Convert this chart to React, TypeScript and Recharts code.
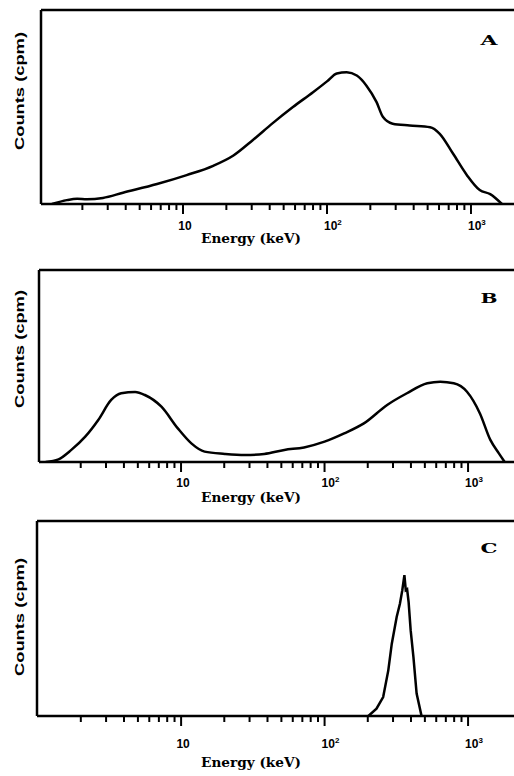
import React from "react";
import { LineChart, Line, XAxis, YAxis, ReferenceLine } from "recharts";

// energy (keV) / relative counts
const energyA = [1.23, 1.56, 1.84, 2.15, 2.78, 3.83, 6.6, 10.6, 16.2, 22.4, 30.6, 42, 58, 80, 100, 117, 137, 161, 188, 221, 245, 286, 375, 520, 607, 750, 935, 1150, 1360, 1640];
const countsA = [0, 2, 2.7, 2.4, 3.1, 5.8, 10.3, 14.9, 19.7, 25, 33, 41.7, 50, 57.6, 63.2, 67.3, 67.9, 66.2, 61, 52.5, 44.8, 41.4, 40.5, 39.6, 36.2, 26, 15, 7.2, 5.1, 0];

const energyB = [1.14, 1.4, 1.72, 2.15, 2.65, 3.26, 3.83, 4.79, 5.6, 7.3, 9.5, 11.8, 14.6, 20.2, 27.8, 38, 52.5, 72, 100, 137, 188, 273, 375, 520, 640, 795, 983, 1210, 1430, 1640, 1800];
const countsB = [0, 1.4, 6.3, 13.2, 21.9, 32.3, 35.8, 36.5, 34.9, 28.8, 17.5, 9.7, 5.4, 4.2, 3.6, 4.2, 6.3, 7.6, 10.6, 14.9, 20.1, 29.7, 35.8, 41, 41.8, 41, 36.6, 25.3, 11.5, 4.5, 0];

const energyC = [202, 230, 256, 278, 294, 318, 335, 348, 360, 368, 376, 385, 398, 416, 438, 474];
const countsC = [0, 3.8, 9.7, 23.4, 37.1, 50.8, 57.6, 64.5, 72.2, 64.5, 65, 58.6, 44, 30.3, 11.5, 0];

const minorTicks = [2, 3, 4, 5, 6, 7, 8, 9, 20, 30, 40, 50, 60, 70, 80, 90, 200, 300, 400, 500, 600, 700, 800, 900];
const majorTicks = [10, 100, 1000];
const powerOf: Record<number, string> = { 10: "", 100: "2", 1000: "3" };

const toRows = (xs: number[], ys: number[]) => xs.map((e, i) => ({ e, c: ys[i] }));

const tickFont = "Liberation Sans, Arial, sans-serif";

function MajorLabel(props: any) {
  const { x, y, payload, labelDy } = props;
  const sup = powerOf[payload.value];
  if (sup === "") {
    return (
      <text x={x + 2} y={y + labelDy} textAnchor="middle" fontFamily={tickFont} fontWeight="bold" fontSize={12} fill="#000">
        10
      </text>
    );
  }
  return (
    <text x={x - 3} y={y + labelDy} textAnchor="start" fontFamily={tickFont} fontWeight="bold" fontSize={12} fill="#000">
      10<tspan dy={-5} fontSize={8}>{sup}</tspan>
    </text>
  );
}

const NoLabel = () => <g />;

interface PanelProps {
  rows: { e: number; c: number }[];
  letter: string;
  top: number;
  height: number;
  plotTop: number;
  plotLeft: number;
  axisH: number;
  domain: [number, number];
  tickDy: number;
  titleY: number;
  yLabelY: number;
  letterY: number;
  curve: "monotone" | "linear";
}

function Panel(p: PanelProps) {
  const texts = () => (
    <g>
      <text x={489} y={p.letterY} textAnchor="middle" textLength={17} lengthAdjust="spacingAndGlyphs" fontFamily="DejaVu Serif, Liberation Serif, serif" fontWeight="bold" fontSize={13} fill="#000">
        {p.letter}
      </text>
      <text
        x={0}
        y={0}
        transform={`translate(24 ${p.yLabelY}) rotate(-90)`}
        textAnchor="middle"
        textLength={118}
        lengthAdjust="spacingAndGlyphs"
        fontFamily={tickFont}
        fontWeight="bold"
        fontSize={13}
        fill="#000"
      >
        Counts (cpm)
      </text>
      <text x={251} y={p.titleY} textAnchor="middle" textLength={100} lengthAdjust="spacingAndGlyphs" fontFamily="DejaVu Serif, Liberation Serif, serif" fontWeight="bold" fontSize={13} fill="#000">
        Energy (keV)
      </text>
    </g>
  );
  return (
    <div style={{ position: "absolute", left: 0, top: p.top }}>
      <LineChart width={514} height={p.height} data={p.rows} margin={{ top: p.plotTop, right: 0, bottom: 0, left: p.plotLeft - 1 }}>
        <XAxis
          dataKey="e"
          type="number"
          scale="log"
          domain={p.domain}
          allowDataOverflow
          ticks={minorTicks}
          interval={0}
          height={1}
          tickSize={6}
          tick={NoLabel}
          tickLine={{ stroke: "#000", strokeWidth: 2 }}
          axisLine={{ stroke: "#000", strokeWidth: 2.5 }}
        />
        <XAxis
          xAxisId="major"
          dataKey="e"
          type="number"
          scale="log"
          domain={p.domain}
          allowDataOverflow
          ticks={majorTicks}
          interval={0}
          height={p.axisH - 1}
          tickSize={9}
          tickMargin={0}
          axisLine={false}
          tickLine={{ stroke: "#000", strokeWidth: 2 }}
          tick={<MajorLabel labelDy={p.tickDy - 10} />}
        />
        <YAxis
          type="number"
          domain={[0, 100]}
          allowDataOverflow
          width={1}
          tick={false}
          tickLine={false}
          axisLine={{ stroke: "#000", strokeWidth: 2.5 }}
        />
        <ReferenceLine y={100} stroke="#000" strokeWidth={2.5} ifOverflow="visible" label={{ content: texts }} />
        <Line type={p.curve} dataKey="c" stroke="#000" strokeWidth={2.5} dot={false} isAnimationActive={false} />
      </LineChart>
    </div>
  );
}

export default function App() {
  return (
    <div style={{ position: "absolute", left: 0, top: 0, width: 514, height: 776, background: "#fff", overflow: "hidden" }}>
      <Panel rows={toRows(energyA, countsA)} letter="A" top={0} height={250} plotTop={10} plotLeft={41} axisH={46} domain={[1.032, 1990]} tickDy={26} titleY={243} yLabelY={91} letterY={45} curve="monotone" />
      <Panel rows={toRows(energyB, countsB)} letter="B" top={260} height={250} plotTop={10} plotLeft={39} axisH={48} domain={[1.024, 2090]} tickDy={25} titleY={242} yLabelY={89} letterY={43} curve="monotone" />
      <Panel rows={toRows(energyC, countsC)} letter="C" top={510} height={266} plotTop={11} plotLeft={37} axisH={60} domain={[0.99, 2090]} tickDy={32} titleY={257} yLabelY={107} letterY={43} curve="linear" />
    </div>
  );
}
